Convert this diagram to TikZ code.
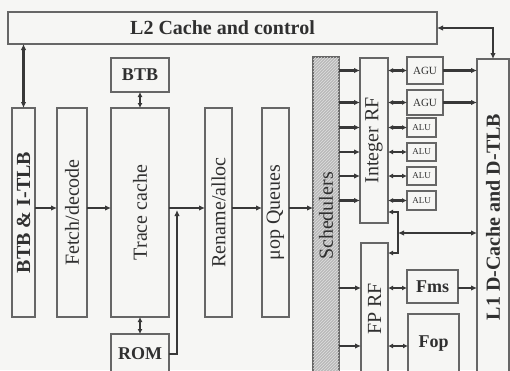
\documentclass[tikz,border=0pt]{standalone}
\usepackage{fontspec}
\setmainfont{Liberation Serif}
\usepackage{graphicx}
\usetikzlibrary{arrows.meta,patterns}
\definecolor{bg}{HTML}{F6F6F4}
\definecolor{boxgray}{HTML}{666666}
\definecolor{linegray}{HTML}{383838}
\definecolor{txt}{HTML}{303030}
\begin{document}
\begin{tikzpicture}[x=1pt,y=-1pt,
  box/.style={draw=boxgray, line width=1.2pt, fill=bg, inner sep=0pt, outer sep=0pt, text=txt},
  tip/.tip={Latex[length=6pt,width=5.5pt]},
  stip/.tip={Latex[length=5pt,width=5pt]},
  conn/.style={draw=linegray, line width=2.4pt, -tip},
  dconn/.style={draw=linegray, line width=2.4pt, tip-tip},
  sdconn/.style={draw=linegray, line width=2.4pt, stip-stip},
  big/.style={font=\fontsize{20}{22}\selectfont},
  bigb/.style={font=\fontsize{20}{22}\selectfont\bfseries},
  mid/.style={font=\fontsize{18}{20}\selectfont\bfseries},
  small/.style={font=\fontsize{11}{12}\selectfont},
  tiny/.style={font=\fontsize{9}{10}\selectfont}]
\clip (0,0) rectangle (510,370);
\fill[bg] (0,0) rectangle (510,370);

% boxes
\node[box, bigb, minimum width=429pt, minimum height=32pt] (L2) at (222.5,28) {L2 Cache and control};
\node[box, bigb, minimum width=23pt, minimum height=209pt] (BTBI) at (23.5,212.5) {\rotatebox{90}{BTB \& I-TLB}};
\node[box, big, minimum width=30pt, minimum height=209pt] (Fetch) at (72,212.5) {\rotatebox{90}{Fetch/decode}};
\node[box, big, minimum width=58pt, minimum height=209pt] (Trace) at (140,212.5) {\rotatebox{90}{Trace cache}};
\node[box, mid, minimum width=58pt, minimum height=34pt] (BTB) at (140,75) {BTB};
\node[box, mid, minimum width=58pt, minimum height=40pt] (ROM) at (140,354) {ROM};
\node[box, big, minimum width=27pt, minimum height=209pt] (Ren) at (218.5,212.5) {\rotatebox{90}{Rename/alloc}};
\node[box, big, minimum width=27pt, minimum height=209pt] (Uop) at (275.5,212.5) {\rotatebox{90}{μop Queues}};
\node[box, big, minimum width=26pt, minimum height=318pt, fill=gray!55,
      postaction={pattern=north east lines, pattern color=gray!25}] (Sch) at (326,216) {\rotatebox{90}{Schedulers}};
\node[box, big, minimum width=28pt, minimum height=165pt] (IRF) at (374,140.5) {\rotatebox{90}{Integer RF}};
\node[box, small, minimum width=36pt, minimum height=27pt] (AGU1) at (425,70.5) {AGU};
\node[box, small, minimum width=36pt, minimum height=25pt] (AGU2) at (425,102.5) {AGU};
\node[box, tiny, minimum width=29pt, minimum height=19pt] (ALU1) at (421.5,127.5) {ALU};
\node[box, tiny, minimum width=29pt, minimum height=18pt] (ALU2) at (421.5,152) {ALU};
\node[box, tiny, minimum width=29pt, minimum height=18pt] (ALU3) at (421.5,176) {ALU};
\node[box, tiny, minimum width=29pt, minimum height=19pt] (ALU4) at (421.5,200.5) {ALU};
\node[box, bigb, minimum width=32pt, minimum height=316pt] (DC) at (493,217) {\rotatebox{90}{L1 D-Cache and D-TLB}};
\node[box, big, minimum width=27pt, minimum height=132pt] (FPRF) at (374.5,309) {\rotatebox{90}{FP RF}};
\node[box, mid, minimum width=51pt, minimum height=33pt] (Fms) at (432.5,286.5) {Fms};
\node[box, mid, minimum width=51pt, minimum height=60pt] (Fop) at (433.5,344) {Fop};

% helper coordinates
\coordinate (r208) at (0,208);
\coordinate (romj) at (177,210);
\coordinate (bt) at (398,212);
\coordinate (bb) at (398,253);
\coordinate (bm) at (398,233);
\coordinate (f1) at (0,288);
\coordinate (f2) at (0,346);

% connectors
\draw[dconn] (L2.south -| BTBI.north) -- (BTBI.north);
\draw[dconn] (L2.east) -| (DC.north);
\draw[sdconn] (BTB.south) -- (Trace.north);
\draw[sdconn] (Trace.south) -- (ROM.north);
\draw[conn] (BTBI.east |- r208) -- (Fetch.west |- r208);
\draw[conn] (Fetch.east |- r208) -- (Trace.west |- r208);
\draw[conn] (Trace.east |- r208) -- (Ren.west |- r208);
\draw[conn] (ROM.east) -| (romj);
\draw[conn] (Ren.east |- r208) -- (Uop.west |- r208);
\draw[conn] (Uop.east |- r208) -- (Sch.west |- r208);

\foreach \u in {AGU1,AGU2,ALU1,ALU2,ALU3,ALU4}{
  \draw[conn] (Sch.east |- \u.west) -- (IRF.west |- \u.west);
  \draw[sdconn] (IRF.east |- \u.west) -- (\u.west);
}
\draw[conn] (AGU1.east) -- (DC.west |- AGU1.east);
\draw[conn] (AGU2.east) -- (DC.west |- AGU2.east);

\draw[sdconn] (IRF.east |- bt) -- (bt) -- (bb) -- (FPRF.east |- bb);
\draw[dconn] (bm) -- (DC.west |- bm);

\draw[conn] (Sch.east |- f1) -- (FPRF.west |- f1);
\draw[conn] (Sch.east |- f2) -- (FPRF.west |- f2);
\draw[sdconn] (FPRF.east |- f1) -- (Fms.west |- f1);
\draw[sdconn] (FPRF.east |- f2) -- (Fop.west |- f2);
\draw[conn] (Fms.east |- f1) -- (DC.west |- f1);
\end{tikzpicture}
\end{document}
